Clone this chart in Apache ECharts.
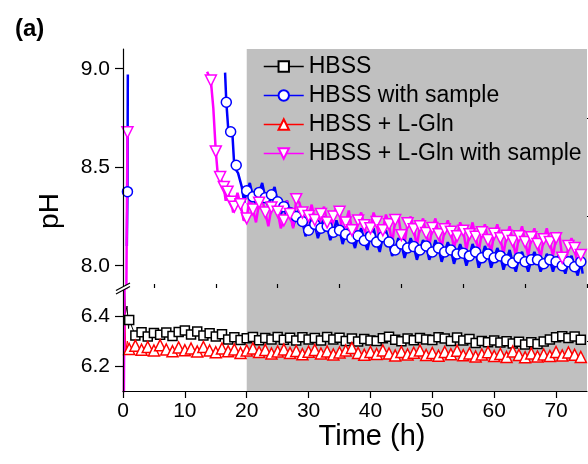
<!DOCTYPE html>
<html>
<head>
<meta charset="utf-8">
<script src="https://cdn.jsdelivr.net/npm/echarts@6/dist/echarts.min.js"></script>
<style>
  html, body { margin: 0; padding: 0; background: #fff; }
  #chart { width: 588px; height: 464px; }
</style>
</head>
<body>
<div id="chart"></div>
<script>
// ---- data ----
const hours = [1, 2, 3, 4, 5, 6, 7, 8, 9, 10, 11, 12, 13, 14, 15, 16, 17, 18, 19, 20,
  21, 22, 23, 24, 25, 26, 27, 28, 29, 30, 31, 32, 33, 34, 35, 36, 37, 38, 39, 40,
  41, 42, 43, 44, 45, 46, 47, 48, 49, 50, 51, 52, 53, 54, 55, 56, 57, 58, 59, 60,
  61, 62, 63, 64, 65, 66, 67, 68, 69, 70, 71, 72, 73, 74];
// half-hour readings between the plotted symbols (noise of the probe)
const halfHours = [18.5, 19.5, 20.5, 21.5, 22.5, 23.5, 24.5, 25.5, 26.5, 27.5, 28.5, 29.5,
  30.5, 31.5, 32.5, 33.5, 34.5, 35.5, 36.5, 37.5, 38.5, 39.5, 40.5, 41.5, 42.5, 43.5,
  44.5, 45.5, 46.5, 47.5, 48.5, 49.5, 50.5, 51.5, 52.5, 53.5, 54.5, 55.5, 56.5, 57.5,
  58.5, 59.5, 60.5, 61.5, 62.5, 63.5, 64.5, 65.5, 66.5, 67.5, 68.5, 69.5, 70.5, 71.5,
  72.5, 73.5];

// HBSS
const hbssSpikeT = [0.15, 0.4, 0.65, 0.9];
const hbssSpikePH = [6.58, 6.41, 6.44, 6.35];
const hbssPH = [6.384, 6.322, 6.335, 6.318, 6.332, 6.325, 6.334, 6.320, 6.336, 6.342,
  6.326, 6.338, 6.322, 6.331, 6.318, 6.327, 6.306, 6.315, 6.304, 6.311,
  6.316, 6.303, 6.312, 6.306, 6.316, 6.305, 6.313, 6.302, 6.315, 6.306,
  6.312, 6.302, 6.316, 6.306, 6.313, 6.300, 6.310, 6.298, 6.308, 6.302,
  6.300, 6.311, 6.317, 6.305, 6.299, 6.310, 6.303, 6.312, 6.306, 6.304,
  6.315, 6.310, 6.300, 6.314, 6.302, 6.308, 6.292, 6.300, 6.295, 6.302,
  6.294, 6.299, 6.290, 6.297, 6.286, 6.295, 6.288, 6.298, 6.306, 6.315,
  6.319, 6.312, 6.318, 6.305];

// HBSS + L-Gln
const glnSpikeT = [0.2, 0.3, 0.45, 0.7];
const glnSpikePH = [6.55, 6.42, 6.26, 6.30];
const glnPH = [6.268, 6.281, 6.265, 6.276, 6.262, 6.283, 6.266, 6.259, 6.274, 6.263,
  6.270, 6.258, 6.276, 6.262, 6.255, 6.270, 6.259, 6.266, 6.252, 6.262,
  6.270, 6.256, 6.264, 6.250, 6.258, 6.266, 6.252, 6.260, 6.247, 6.257,
  6.264, 6.250, 6.258, 6.246, 6.254, 6.262, 6.272, 6.252, 6.245, 6.256,
  6.248, 6.262, 6.250, 6.242, 6.256, 6.246, 6.253, 6.262, 6.244, 6.252,
  6.241, 6.256, 6.247, 6.261, 6.243, 6.250, 6.238, 6.246, 6.255, 6.240,
  6.248, 6.236, 6.258, 6.244, 6.235, 6.250, 6.238, 6.246, 6.240, 6.256,
  6.242, 6.254, 6.245, 6.236];

// HBSS with sample (null = no reading, line breaks)
const sampleTraceT = [0.62, 0.78, 8, 16.5, 17.0, 17.7, 18.0, 18.6, 19.2, 19.6]
  .concat(halfHours.slice(2), [74.3]);
const sampleTracePH = [8.10, 8.97, null, 8.98, 8.70, 8.66, 8.50, 8.47, 8.40, 8.32,
  8.42, 8.31, 8.42, 8.30, 8.40, 8.26, 8.33, 8.20, 8.29, 8.15,
  8.25, 8.14, 8.25, 8.13, 8.23, 8.11, 8.20, 8.09, 8.19, 8.08,
  8.19, 8.07, 8.18, 8.05, 8.14, 8.04, 8.14, 8.03, 8.13, 8.03,
  8.13, 8.02, 8.12, 8.01, 8.11, 8.00, 8.11, 7.99, 8.10, 7.99,
  8.09, 7.98, 8.08, 7.97, 8.07, 7.97, 8.07, 7.97, 8.06, 7.97,
  8.06, 7.96, 8.05, 7.95, 7.96];
const sampleT = [0.72, 16.7, 17.4, 18.3].concat(hours.slice(19));
const samplePH = [8.376, 8.83, 8.68, 8.51,
  8.380, 8.350, 8.372, 8.345, 8.360, 8.325, 8.300, 8.270, 8.250, 8.225,
  8.180, 8.210, 8.190, 8.200, 8.170, 8.180, 8.160, 8.140, 8.152, 8.128,
  8.150, 8.120, 8.147, 8.120, 8.080, 8.110, 8.090, 8.097, 8.080, 8.100,
  8.070, 8.090, 8.070, 8.080, 8.060, 8.064, 8.050, 8.070, 8.040, 8.060,
  8.040, 8.050, 8.030, 8.014, 8.040, 8.020, 8.030, 8.030, 8.010, 8.030,
  8.020, 8.000, 8.020, 7.995, 8.020];

// HBSS + L-Gln with sample
const glnSampleTraceT = [0.1, 8, 13.6, 14.6, 15.3, 16.0, 16.6, 17.2, 17.8]
  .concat(halfHours);
const glnSampleTracePH = [5.9, null, 8.985, 8.80, 8.47, 8.46, 8.33, 8.38, 8.27,
  8.37, 8.23, 8.35, 8.22, 8.34, 8.20, 8.33, 8.19, 8.33, 8.19, 8.32, 8.18,
  8.31, 8.17, 8.30, 8.16, 8.30, 8.15, 8.28, 8.14, 8.27, 8.13, 8.27, 8.12,
  8.26, 8.11, 8.25, 8.11, 8.25, 8.10, 8.24, 8.10, 8.24, 8.09, 8.23, 8.09,
  8.22, 8.08, 8.22, 8.07, 8.21, 8.07, 8.21, 8.06, 8.20, 8.05, 8.20, 8.05,
  8.19, 8.04, 8.19, 8.05, 8.17, 8.00, 8.14, 8.00];
const glnSampleT = [0.72, 14.2, 15.0, 15.7, 16.3, 16.9, 17.5].concat(hours.slice(17));
const glnSamplePH = [8.677, 8.94, 8.58, 8.45, 8.40, 8.376, 8.325,
  8.300, 8.312, 8.240, 8.285, 8.320, 8.270, 8.296, 8.274, 8.230, 8.262,
  8.338, 8.270, 8.252, 8.232, 8.262, 8.220, 8.250, 8.274, 8.220, 8.180,
  8.230, 8.205, 8.190, 8.222, 8.180, 8.210, 8.232, 8.155, 8.216, 8.185,
  8.200, 8.166, 8.192, 8.160, 8.185, 8.173, 8.150, 8.178, 8.160, 8.147,
  8.170, 8.130, 8.162, 8.140, 8.152, 8.125, 8.150, 8.120, 8.145, 8.110,
  8.135, 8.120, 8.140, 8.040, 8.100, 8.090, 8.055];

const seriesNames = ['HBSS', 'HBSS with sample', 'HBSS + L-Gln', 'HBSS + L-Gln with sample'];
const shadeRange = [20, 75];
const xMajor = [0, 10, 20, 30, 40, 50, 60, 70];
const xMinor = [5, 15, 25, 35, 45, 55, 65, 75];
const yUpperMajor = [8.0, 8.5, 9.0];
const yUpperMinor = [8.25, 8.75];
const yLowerMajor = [6.2, 6.4];
const yLowerMinor = [6.3];

// ---- chart ----
const FONT = '"Liberation Sans", Arial, sans-serif';
const X_RANGE = [0, 75];
const Y_UPPER = [7.887, 9.1];
const Y_LOWER = [6.1, 6.512];

function buildData(traceT, tracePH, markT, markPH) {
  const pts = [];
  traceT.forEach((t, i) => pts.push({ value: [t, tracePH[i]], symbol: 'none' }));
  markT.forEach((t, i) => pts.push({ value: [t, markPH[i]] }));
  pts.sort((a, b) => a.value[0] - b.value[0]);
  return pts;
}

const styles = [
  { color: '#000000', symbol: 'rect', size: 9, rotate: 0, width: 1,
    data: buildData(hbssSpikeT, hbssSpikePH, hours, hbssPH) },
  { color: '#0000ff', symbol: 'circle', size: 10, rotate: 0, width: 2.5,
    data: buildData(sampleTraceT, sampleTracePH, sampleT, samplePH) },
  { color: '#ff0000', symbol: 'triangle', size: 11, rotate: 0, width: 1,
    data: buildData(glnSpikeT, glnSpikePH, hours, glnPH) },
  { color: '#ff00ff', symbol: 'triangle', size: 11, rotate: 180, width: 2.5,
    data: buildData(glnSampleTraceT, glnSampleTracePH, glnSampleT, glnSamplePH) }
];

const series = [];
// gray background band, one per panel
[[0, 0], [1, 2]].forEach(([xi, yi]) => {
  series.push({
    type: 'line', name: 'shade' + xi, xAxisIndex: xi, yAxisIndex: yi, data: [],
    silent: true,
    markArea: {
      silent: true,
      itemStyle: { color: '#c0c0c0' },
      data: [[{ xAxis: shadeRange[0] }, { xAxis: shadeRange[1] }]]
    }
  });
});
// every curve is drawn in both panels and clipped, like a broken axis
[[0, 0], [1, 2]].forEach(([xi, yi]) => {
  styles.forEach((s, k) => {
    series.push({
      type: 'line',
      name: seriesNames[k],
      xAxisIndex: xi,
      yAxisIndex: yi,
      clip: true,
      data: s.data,
      symbol: s.symbol,
      symbolSize: s.size,
      symbolRotate: s.rotate,
      showAllSymbol: true,
      connectNulls: false,
      lineStyle: { color: s.color, width: s.width },
      itemStyle: { color: '#ffffff', borderColor: s.color, borderWidth: 1.5 },
      emphasis: { disabled: true }
    });
  });
});

const tickLine = { color: '#000', width: 1.2 };
const labelStyle = { fontFamily: FONT, fontSize: 21, color: '#000' };

function yAxisPair(grid, range, major, minor) {
  return [
    {
      gridIndex: grid, type: 'value', min: range[0], max: range[1], z: 5,
      axisLine: { show: true, onZero: false, lineStyle: tickLine },
      axisTick: { show: true, length: 8, lineStyle: tickLine, customValues: major },
      axisLabel: Object.assign({ margin: 13, customValues: major,
        formatter: v => Number(v).toFixed(1) }, labelStyle),
      splitLine: { show: false }
    },
    {
      gridIndex: grid, type: 'value', min: range[0], max: range[1], z: 5,
      axisLine: { show: false, onZero: false },
      axisTick: { show: true, length: 4, lineStyle: tickLine, customValues: minor },
      axisLabel: { show: false },
      splitLine: { show: false }
    }
  ];
}

const chart = echarts.init(document.getElementById('chart'), null, { renderer: 'canvas' });
chart.setOption({
  animation: false,
  backgroundColor: '#ffffff',
  title: {
    text: '(a)', left: 10, top: 12,
    textStyle: { fontFamily: FONT, fontSize: 24, fontWeight: 'bold', color: '#000' }
  },
  legend: {
    data: seriesNames,
    orient: 'vertical',
    left: 263, top: 55, padding: 0,
    itemWidth: 40, itemHeight: 13, itemGap: 6,
    selectedMode: false,
    lineStyle: { width: 1.5 },
    textStyle: { fontFamily: FONT, fontSize: 23, color: '#000' }
  },
  grid: [
    { left: 123, right: 1, top: 49, height: 239 },
    { left: 123, right: 1, top: 288, height: 103 }
  ],
  xAxis: [
    { gridIndex: 0, type: 'value', min: X_RANGE[0], max: X_RANGE[1], show: false },
    {
      gridIndex: 1, type: 'value', min: X_RANGE[0], max: X_RANGE[1], z: 5,
      axisLine: { show: true, onZero: false, lineStyle: tickLine },
      axisTick: { show: true, length: 7, lineStyle: tickLine, customValues: xMajor },
      axisLabel: Object.assign({ margin: 10, customValues: xMajor }, labelStyle),
      splitLine: { show: false },
      name: 'Time (h)', nameLocation: 'middle', nameGap: 31,
      nameTextStyle: { fontFamily: FONT, fontSize: 29, color: '#000', padding: [0, 0, 0, 34] }
    },
    {
      gridIndex: 1, type: 'value', min: X_RANGE[0], max: X_RANGE[1], z: 5,
      axisLine: { show: false, onZero: false },
      axisTick: { show: true, length: 4, lineStyle: tickLine, customValues: xMinor },
      axisLabel: { show: false },
      splitLine: { show: false }
    }
  ],
  yAxis: yAxisPair(0, Y_UPPER, yUpperMajor, yUpperMinor)
    .concat(yAxisPair(1, Y_LOWER, yLowerMajor, yLowerMinor)),
  graphic: [
    {
      type: 'text', x: 50, y: 211, rotation: Math.PI / 2,
      style: { text: 'pH', fontFamily: FONT, fontSize: 28, fill: '#000',
        align: 'center', verticalAlign: 'middle' }
    },
    // axis break mark
    {
      type: 'polygon', z: 10,
      shape: { points: [[116, 290.5], [130, 283], [130, 286.5], [116, 294]] },
      style: { fill: '#ffffff' }
    },
    { type: 'line', z: 11, shape: { x1: 116, y1: 290.5, x2: 130, y2: 283 },
      style: { stroke: '#000', lineWidth: 1.2 } },
    { type: 'line', z: 11, shape: { x1: 116, y1: 294, x2: 130, y2: 286.5 },
      style: { stroke: '#000', lineWidth: 1.2 } }
  ],
  series: series
});
</script>
</body>
</html>
